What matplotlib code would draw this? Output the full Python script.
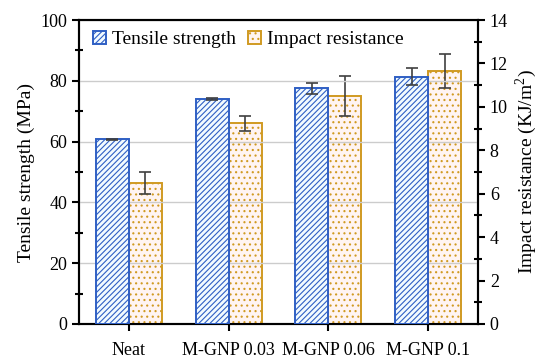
import matplotlib
matplotlib.use("Agg")
import matplotlib.pyplot as plt
import numpy as np
from matplotlib.ticker import MultipleLocator

plt.rcParams['font.family'] = ['Liberation Serif', 'DejaVu Serif']
plt.rcParams['mathtext.fontset'] = 'custom'
plt.rcParams['mathtext.rm'] = 'Liberation Serif'
plt.rcParams['hatch.linewidth'] = 0.8

categories = ["Neat", "M-GNP 0.03", "M-GNP 0.06", "M-GNP 0.1"]
tensile = [60.7, 74.1, 77.6, 81.4]
tensile_err = [0.3, 0.4, 1.8, 2.8]
impact = [6.5, 9.25, 10.5, 11.65]
impact_err = [0.5, 0.35, 0.92, 0.8]

fig = plt.figure(figsize=(5.5, 3.62), dpi=100)
ax = fig.add_axes([79/550, 1-324/362, 399/550, 304/362])
ax2 = ax.twinx()

x = np.arange(len(categories))
w = 0.33
blue = '#2f5fc4'
gold = '#d09a22'

ax.set_zorder(ax2.get_zorder() + 1)
ax.patch.set_visible(False)

b1 = ax.bar(x - w/2, tensile, w, facecolor='#f2fbff', edgecolor=blue, hatch='//////',
            linewidth=1.4, label='Tensile strength', zorder=3)
ax.errorbar(x - w/2, tensile, yerr=tensile_err, fmt='none', ecolor='#404040',
            elinewidth=1.2, capsize=4, capthick=1.2, zorder=4)
b2 = ax2.bar(x + w/2, impact, w, facecolor='#fff4f2', edgecolor=gold, hatch='...',
             linewidth=1.4, label='Impact resistance', zorder=3)
ax2.errorbar(x + w/2, impact, yerr=impact_err, fmt='none', ecolor='#404040',
             elinewidth=1.2, capsize=4, capthick=1.2, zorder=4)

ax.set_xlim(-0.5, 3.5)
ax.set_ylim(0, 100)
ax2.set_ylim(0, 14)
ax.yaxis.set_major_locator(MultipleLocator(20))
ax.yaxis.set_minor_locator(MultipleLocator(10))
ax2.yaxis.set_major_locator(MultipleLocator(2))
ax2.yaxis.set_minor_locator(MultipleLocator(1))
ax.set_xticks(x)
ax.set_xticklabels(categories, fontsize=13)
ax.tick_params(axis='x', direction='out', length=5, width=1.5, pad=8)
ax.tick_params(axis='y', which='major', direction='out', length=5, width=1.5, labelsize=13)
ax.tick_params(axis='y', which='minor', direction='inout', length=6, width=1.5)
ax2.tick_params(axis='y', which='major', direction='out', length=5, width=1.5, labelsize=13)
ax2.tick_params(axis='y', which='minor', direction='inout', length=6, width=1.5)

ax2.yaxis.grid(False)
ax.yaxis.grid(True, color='#cccccc', linewidth=1.0, zorder=0)
ax.set_axisbelow(True)

for a in (ax, ax2):
    for s in a.spines.values():
        s.set_linewidth(1.5)
        s.set_color('black')

ax.set_ylabel('Tensile strength (MPa)', fontsize=14)
ax2.set_ylabel('Impact resistance (KJ/m$^2$)', fontsize=14, labelpad=4)

leg = ax.legend(handles=[b1, b2], loc='upper left', ncol=2, frameon=False,
                fontsize=14, handlelength=0.7, handleheight=0.7, handletextpad=0.3,
                columnspacing=0.6, bbox_to_anchor=(0.0, 1.01), borderaxespad=0.3)

fig.savefig('out.png', dpi=100)
